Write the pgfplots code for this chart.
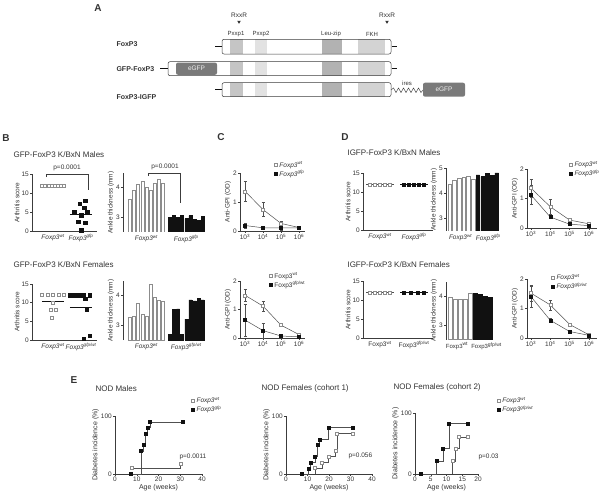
\documentclass[border=0pt]{standalone}
\usepackage{fontspec}
\setmainfont{Liberation Sans}
\usepackage{pgfplots}
\pgfplotsset{compat=1.18}
\definecolor{txt}{HTML}{333333}
\definecolor{axc}{HTML}{3C3C3C}
\definecolor{wtc}{HTML}{8C8C8C}
\definecolor{lnc}{HTML}{505050}
\definecolor{blk}{HTML}{111111}
\definecolor{dA}{HTML}{C5C5C5}
\definecolor{dB}{HTML}{E2E2E2}
\definecolor{dC}{HTML}{B2B2B2}
\definecolor{dD}{HTML}{D3D3D3}
\definecolor{egc}{HTML}{7A7A7A}
\newcommand{\fs}[1]{\fontsize{#1}{#1}\selectfont}
\newcommand{\fxi}[1]{\textit{Foxp3\textsuperscript{#1}}}
\newcommand{\fxu}[1]{Foxp3\textsuperscript{#1}}
\newcommand{\doms}[2]{%
 \fill[dA] (230,#1) rectangle (243,#2);
 \fill[dB] (255,#1) rectangle (267,#2);
 \fill[dC] (322,#1) rectangle (342,#2);
 \fill[dD] (358,#1) rectangle (385,#2);}
\pgfplotsset{
  gp/.style={scale only axis, anchor=south west, clip=false,
    axis x line*=bottom, axis y line*=left,
    axis line style={-, draw=axc, line width=0.55pt},
    tick style={draw=axc, line width=0.5pt}, major tick length=2pt, tick align=outside,
    ticklabel style={font=\fs{6.5}, text=txt, inner sep=1pt},
    label style={font=\fs{6.5}, text=txt},
    /pgf/number format/assume math mode=true,
    ylabel style={inner sep=1pt}, xlabel style={inner sep=1pt}},
  catx/.style={xtick style={draw=none}},
  bars/.style={x axis line style={draw=none}, xtick style={draw=none}, clip=true},
  lg/.style={legend style={at={#1}, anchor=north west, draw=none, fill=none,
      font=\fs{6.5}, text=txt, inner sep=0pt, row sep=0.6pt, nodes={inner sep=0.5pt},
      /tikz/every odd column/.append style={column sep=1.8pt}},
      legend cell align=left,
      legend image code/.code={\draw[##1] plot coordinates {(1.6pt,0pt)};}},
  wtm/.style={mark=square*, mark size=1.5pt, mark options={fill=white, draw=wtc, line width=0.45pt, solid}},
  gfm/.style={mark=square*, mark size=1.5pt, mark options={fill=blk, draw=blk, solid}},
  eb/.style={error bars/y dir=both, error bars/y explicit,
    error bars/error bar style={draw=lnc, line width=0.4pt},
    error bars/error mark options={rotate=90, draw=lnc, mark size=1.5pt, line width=0.4pt}},
  eax/.style={xlabel={Age (weeks)}, ylabel={Diabetes incidence (\%)}, ymin=0, ymax=100, ytick={0,100},
    label style={font=\fs{7}}},
}
\begin{document}
\begin{tikzpicture}[x=1pt,y=1pt]
\useasboundingbox (0pt,0pt) rectangle (604pt,498pt);
%================ overlay (image coordinates) ================
\begin{axis}[at={(0pt,0pt)}, anchor=south west, scale only axis, width=604pt, height=498pt,
  xmin=0, xmax=604, ymin=0, ymax=498, y dir=reverse, hide axis, clip=false]
% panel A
\node[font=\fs{10}\bfseries, text=txt] at (98,8) {A};
\node[font=\fs{6.5}, text=txt] at (239,15) {RxxR};
\node[font=\fs{6.5}, text=txt] at (387,15) {RxxR};
\fill[txt] (237.2,20.8) -- (240.8,20.8) -- (239,23.8) -- cycle;
\fill[txt] (385.2,20.8) -- (388.8,20.8) -- (387,23.8) -- cycle;
\node[font=\fs{6}, text=txt] at (236,34) {Pxxp1};
\node[font=\fs{6}, text=txt] at (261,34) {Pxxp2};
\node[font=\fs{6}, text=txt] at (331,34) {Leu-zip};
\node[font=\fs{6}, text=txt] at (372,34) {FKH};
\node[font=\fs{7}\bfseries, text=txt, anchor=west] at (113,44) {FoxP3};
\node[font=\fs{7}\bfseries, text=txt, anchor=west] at (113,69) {GFP-FoxP3};
\node[font=\fs{7}\bfseries, text=txt, anchor=west] at (113,97) {FoxP3-IGFP};
% row 1
\doms{39.3}{54}
\draw[axc, line width=0.5pt, rounded corners=2pt] (222,39.3) rectangle (391,54);
\draw[blk, line width=1pt] (215,46.7) -- (221.5,46.7);
\draw[blk, line width=1pt] (391.5,46.7) -- (397,46.7);
% row 2
\doms{61.7}{75.7}
\draw[axc, line width=0.5pt, rounded corners=2pt] (168,61.7) rectangle (391,75.7);
\fill[egc, rounded corners=2pt] (176,62.6) rectangle (217,74.8);
\node[font=\fs{6.5}, text=white!88!gray] at (196.5,68.7) {eGFP};
\draw[blk, line width=1pt] (160,68.7) -- (167.5,68.7);
\draw[blk, line width=1pt] (391.5,68.7) -- (397,68.7);
% row 3
\doms{82.7}{96.7}
\draw[axc, line width=0.5pt, rounded corners=2pt] (222,82.7) rectangle (391,96.7);
\draw[blk, line width=1pt] (215,89.7) -- (221.5,89.7);
\draw[axc, line width=0.45pt] (391,90) -- (393.5,88) -- (396,92.5) -- (398.5,88) -- (401,92.5) -- (403.5,88) -- (406,92.5) -- (408.5,88) -- (411,92.5) -- (413.5,88) -- (416,92.5) -- (418.5,88) -- (421,92.5) -- (423,90);
\node[font=\fs{6}, text=txt] at (407,83) {ires};
\fill[egc, rounded corners=2pt] (423,82.7) rectangle (465,96.7);
\node[font=\fs{6.5}, text=white!88!gray] at (444,89.7) {eGFP};
% panel letters and titles
\node[font=\fs{10}\bfseries, text=txt] at (6,138) {B};
\node[font=\fs{10}\bfseries, text=txt] at (221,137) {C};
\node[font=\fs{10}\bfseries, text=txt] at (345,137) {D};
\node[font=\fs{10}\bfseries, text=txt] at (74,380) {E};
\node[font=\fs{8}, text=txt, anchor=west] at (10,155) {GFP-FoxP3 K/BxN Males};
\node[font=\fs{8}, text=txt, anchor=west] at (10,265) {GFP-FoxP3 K/BxN Females};
\node[font=\fs{8}, text=txt, anchor=west] at (344,153) {IGFP-FoxP3 K/BxN Males};
\node[font=\fs{8}, text=txt, anchor=west] at (344,265) {IGFP-FoxP3 K/BxN Females};
\node[font=\fs{8}, text=txt, anchor=west] at (92,389) {NOD Males};
\node[font=\fs{8}, text=txt, anchor=west] at (258,388) {NOD Females (cohort 1)};
\node[font=\fs{8}, text=txt, anchor=west] at (390,387) {NOD Females (cohort 2)};
% p-values
\draw[axc, line width=0.5pt] (46,177) -- (46,174) -- (88,174) -- (88,190);
\node[font=\fs{6.5}, text=txt] at (67,168) {p=0.0001};
\draw[axc, line width=0.5pt] (148,176) -- (148,173) -- (180,173) -- (180,203);
\node[font=\fs{6.5}, text=txt] at (165,167) {p=0.0001};
\node[font=\fs{6.5}, text=txt, anchor=west] at (176,457) {p=0.0011};
\node[font=\fs{6.5}, text=txt, anchor=west] at (345,456) {p=0.056};
\node[font=\fs{6.5}, text=txt, anchor=west] at (475,457) {p=0.03};
\end{axis}
%================ B: males arthritis ================
\begin{axis}[gp, catx, at={(32pt,267pt)}, width=65pt, height=57pt, xmin=0.25, xmax=2.57,
  ymin=0, ymax=15, ytick={0,5,10,15}, xtick={1,2}, xticklabels={\fxi{wt},\fxi{gfp}}, ylabel={Arthritis score}]
\addplot[only marks, wtm] coordinates {(0.60,12)(0.71,12)(0.83,12)(0.94,12)(1.06,12)(1.17,12)(1.29,12)(1.40,12)};
\addplot[blk, line width=0.5pt] coordinates {(1.6,4.5)(2.4,4.5)};
\addplot[only marks, gfm, mark size=1.7pt] coordinates {(2.15,8)(1.95,7.2)(2.12,6.1)(1.75,5.1)(2.22,4.9)(2.0,4.2)(1.9,2.4)(2.15,2.2)(2.0,0.2)};
\end{axis}
%================ B: males ankle ================
\begin{axis}[gp, bars, at={(123pt,266pt)}, width=83pt, height=59pt, xmin=-0.7, xmax=19.5,
  ymin=2.5, ymax=4.47, ytick={3,4}, xtick={5,14.7}, xticklabels={\fxi{wt},\fxi{gfp}}, ylabel={Ankle thickness (mm)}]
\addplot[ybar, bar shift=0pt, bar width=3pt, fill=white, draw=wtc, line width=0.5pt] coordinates {(1,3.61)(2,3.89)(3,4.08)(4,4.19)(5,4.0)(6,3.89)(7,4.12)(8,4.25)(9,4.12)};
\addplot[ybar, bar shift=0pt, bar width=3pt, fill=blk, draw=blk, line width=0.5pt] coordinates {(10.7,3.0)(11.7,3.05)(12.7,3.0)(13.7,3.05)(14.7,2.95)(15.7,3.05)(16.7,2.92)(17.7,2.88)(18.7,3.02)};
\end{axis}
%================ B: females arthritis ================
\begin{axis}[gp, catx, at={(32pt,158pt)}, width=65pt, height=56pt, xmin=0.25, xmax=2.57,
  ymin=0, ymax=15, ytick={0,5,10,15}, xtick={1,2}, xticklabels={\fxi{wt},\fxi{gfp/wt}}, ylabel={Arthritis score}]
\addplot[only marks, wtm] coordinates {(0.6,12)(0.8,12)(1.0,12)(1.2,12)(1.4,12)(1.0,10)(0.92,8.2)(1.08,8.2)(0.97,6.1)};
\addplot[blk, line width=0.5pt] coordinates {(0.6,10.3)(1.4,10.3)};
\addplot[blk, line width=0.5pt] coordinates {(1.6,8.8)(2.4,8.8)};
\addplot[only marks, gfm, mark size=1.7pt] coordinates {(1.6,12)(1.76,12)(1.92,12)(2.08,12)(2.3,12)(2.15,11)(2.2,8.2)(2.3,1.2)(2.1,0.3)};
\end{axis}
%================ B: females ankle ================
\begin{axis}[gp, bars, at={(123pt,158pt)}, width=83pt, height=59pt, xmin=-0.7, xmax=19.5,
  ymin=2.5, ymax=4.47, ytick={3,4}, xtick={5,14.7}, xticklabels={\fxi{wt},\fxi{gfp/wt}}, ylabel={Ankle thickness (mm)}]
\addplot[ybar, bar shift=0pt, bar width=3pt, fill=white, draw=wtc, line width=0.5pt] coordinates {(1,3.26)(2,3.3)(3,3.72)(4,3.37)(5,3.28)(6,4.37)(7,3.93)(8,3.84)(9,3.79)};
\addplot[ybar, bar shift=0pt, bar width=3pt, fill=blk, draw=blk, line width=0.5pt] coordinates {(10.7,2.69)(11.7,3.53)(12.7,3.54)(13.7,2.69)(14.7,3.2)(15.7,3.84)(16.7,3.81)(17.7,3.88)(18.7,3.84)};
\end{axis}
%================ C: top ================
\begin{axis}[gp, xmode=log, xtick={1e3,1e4,1e5,1e6},
  xticklabels={10\textsuperscript{3},10\textsuperscript{4},10\textsuperscript{5},10\textsuperscript{6}},
  xminorticks=false, ymin=0, ymax=2, ytick={0,1,2}, ylabel={Anti-GPI (OD)},
  at={(240pt,267pt)}, width=65pt, height=58pt, xmin=527, xmax=2.15e6, lg={(0.523,1.207)}]
\addlegendimage{only marks, mark=square*, mark size=1.5pt, mark options={fill=white, draw=wtc, line width=0.45pt}}
\addlegendentry{\fxi{wt}}
\addlegendimage{only marks, mark=square*, mark size=1.5pt, mark options={fill=blk, draw=blk}}
\addlegendentry{\fxi{gfp}}
\addplot[forget plot, lnc, line width=0.5pt, wtm, eb] coordinates {(1e3,1.37) +- (0,0.33) (1e4,0.74) +- (0,0.24) (1e5,0.26) +- (0,0.07) (1e6,0.12) +- (0,0.04)};
\addplot[forget plot, lnc, line width=0.5pt, gfm, eb] coordinates {(1e3,0.19) +- (0,0.08) (1e4,0.11) +- (0,0.03) (1e5,0.11) +- (0,0.07) (1e6,0.11) +- (0,0.05)};
\end{axis}
%================ C: bottom ================
\begin{axis}[gp, xmode=log, xtick={1e3,1e4,1e5,1e6},
  xticklabels={10\textsuperscript{3},10\textsuperscript{4},10\textsuperscript{5},10\textsuperscript{6}},
  xminorticks=false, ymin=0, ymax=2, ytick={0,1,2}, ylabel={Anti-GPI (OD)},
  at={(240pt,160pt)}, width=65pt, height=57pt, xmin=527, xmax=2.15e6, lg={(0.446,1.158)}]
\addlegendimage{only marks, mark=square*, mark size=1.5pt, mark options={fill=white, draw=wtc, line width=0.45pt}}
\addlegendentry{\fxu{wt}}
\addlegendimage{only marks, mark=square*, mark size=1.5pt, mark options={fill=blk, draw=blk}}
\addlegendentry{\fxu{gfp/wt}}
\addplot[forget plot, lnc, line width=0.5pt, wtm, eb] coordinates {(1e3,1.5) +- (0,0.22) (1e4,1.12) +- (0,0.17) (1e5,0.45) +- (0,0.03) (1e6,0.12) +- (0,0.05)};
\addplot[forget plot, lnc, line width=0.5pt, gfm, eb] coordinates {(1e3,0.63) +- (0,0.55) (1e4,0.26) +- (0,0.25) (1e5,0.07) +- (0,0.02) (1e6,0.04) +- (0,0.02)};
\end{axis}
%================ D: males arthritis ================
\begin{axis}[gp, catx, at={(363pt,268pt)}, width=70pt, height=57pt, xmin=0.5, xmax=2.56,
  ymin=0, ymax=15, ytick={0,5,10,15}, xtick={1,2}, xticklabels={\fxi{wt},\fxi{gfp}}, ylabel={Arthritis score}]
\addplot[lnc, line width=0.5pt] coordinates {(0.6,12)(1.4,12)};
\addplot[blk, line width=0.5pt] coordinates {(1.6,12)(2.4,12)};
\addplot[only marks, wtm] coordinates {(0.7,12)(0.85,12)(1.0,12)(1.15,12)(1.3,12)};
\addplot[only marks, gfm] coordinates {(1.7,12)(1.85,12)(2.0,12)(2.15,12)(2.3,12)};
\end{axis}
%================ D: males ankle ================
\begin{axis}[gp, bars, at={(446pt,267pt)}, width=54pt, height=63pt, xmin=0.2, xmax=11.7,
  ymin=2.5, ymax=5, ytick={3,4,5}, xtick={3.3,9.2}, xticklabels={\fxi{wt},\fxi{gfp}}, ylabel={Ankle thickness (mm)}]
\addplot[ybar, bar shift=0pt, bar width=3.6pt, fill=white, draw=wtc, line width=0.5pt] coordinates {(1,4.37)(2,4.52)(3,4.6)(4,4.64)(5,4.69)(6,4.56)};
\addplot[ybar, bar shift=0pt, bar width=3.6pt, fill=blk, draw=blk, line width=0.5pt] coordinates {(7,4.73)(8,4.66)(9,4.79)(10,4.7)(11,4.81)};
\end{axis}
%================ D: females arthritis ================
\begin{axis}[gp, catx, at={(363pt,160pt)}, width=70pt, height=57pt, xmin=0.5, xmax=2.56,
  ymin=0, ymax=15, ytick={0,5,10,15}, xtick={1,2}, xticklabels={\fxu{wt},\fxu{gfp/wt}}, ylabel={Arthritis score}]
\addplot[lnc, line width=0.5pt] coordinates {(0.6,12)(1.4,12)};
\addplot[blk, line width=0.5pt] coordinates {(1.6,12)(2.4,12)};
\addplot[only marks, wtm] coordinates {(0.7,12)(0.85,12)(1.0,12)(1.15,12)(1.3,12)};
\addplot[only marks, gfm] coordinates {(1.7,12)(1.9,12)(2.1,12)(2.3,12)};
\end{axis}
%================ D: females ankle ================
\begin{axis}[gp, bars, at={(446pt,158.5pt)}, width=48pt, height=58pt, xmin=0.2, xmax=9.8,
  ymin=2.5, ymax=4.5, ytick={3,4}, xtick={2.4,8.3}, xticklabels={\fxu{wt},\fxu{gfp/wt}}, ylabel={Ankle thickness (mm)},
  xticklabel style={font=\fs{6}}]
\addplot[ybar, bar shift=0pt, bar width=3.8pt, fill=white, draw=wtc, line width=0.5pt] coordinates {(1,3.96)(2,3.88)(3,3.88)(4,3.88)(5,4.08)};
\addplot[ybar, bar shift=0pt, bar width=3.8pt, fill=blk, draw=blk, line width=0.5pt] coordinates {(6,4.08)(7,4.05)(8,3.99)(9,3.96)};
\end{axis}
%================ D: top anti-GPI ================
\begin{axis}[gp, xmode=log, xtick={1e3,1e4,1e5,1e6},
  xticklabels={10\textsuperscript{3},10\textsuperscript{4},10\textsuperscript{5},10\textsuperscript{6}},
  xminorticks=false, ymin=0, ymax=2, ytick={0,1,2}, ylabel={Anti-GPI (OD)},
  at={(527pt,270pt)}, width=70pt, height=59pt, xmin=621, xmax=2.63e6, lg={(0.6,1.144)}]
\addlegendimage{only marks, mark=square*, mark size=1.5pt, mark options={fill=white, draw=wtc, line width=0.45pt}}
\addlegendentry{\fxi{wt}}
\addlegendimage{only marks, mark=square*, mark size=1.5pt, mark options={fill=blk, draw=blk}}
\addlegendentry{\fxi{gfp}}
\addplot[forget plot, lnc, line width=0.5pt, wtm, eb] coordinates {(1e3,1.35) +- (0,0.3) (1e4,0.72) +- (0,0.25) (1e5,0.27) +- (0,0.04) (1e6,0.14) +- (0,0.02)};
\addplot[forget plot, lnc, line width=0.5pt, gfm, eb] coordinates {(1e3,1.12) +- (0,0.32) (1e4,0.37) +- (0,0.04) (1e5,0.13) +- (0,0.03) (1e6,0.08) +- (0,0.02)};
\end{axis}
%================ D: bottom anti-GPI ================
\begin{axis}[gp, xmode=log, xtick={1e3,1e4,1e5,1e6},
  xticklabels={10\textsuperscript{3},10\textsuperscript{4},10\textsuperscript{5},10\textsuperscript{6}},
  xminorticks=false, ymin=0, ymax=2, ytick={0,1,2}, ylabel={Anti-GPI (OD)},
  at={(527pt,160pt)}, width=70pt, height=59pt, xmin=621, xmax=2.63e6, lg={(0.343,1.093)}]
\addlegendimage{only marks, mark=square*, mark size=1.5pt, mark options={fill=white, draw=wtc, line width=0.45pt}}
\addlegendentry{\fxi{wt}}
\addlegendimage{only marks, mark=square*, mark size=1.5pt, mark options={fill=blk, draw=blk}}
\addlegendentry{\fxi{gfp/wt}}
\addplot[forget plot, lnc, line width=0.5pt, wtm, eb] coordinates {(1e3,1.52) +- (0,0.27) (1e4,1.12) +- (0,0.17) (1e5,0.46) +- (0,0.03) (1e6,0.11) +- (0,0.03)};
\addplot[forget plot, lnc, line width=0.5pt, gfm, eb] coordinates {(1e3,1.4) +- (0,0.35) (1e4,0.6) +- (0,0.07) (1e5,0.22) +- (0,0.03) (1e6,0.09) +- (0,0.02)};
\end{axis}
%================ E: NOD males ================
\begin{axis}[gp, eax, at={(115pt,24pt)}, width=87pt, height=58pt, xmin=0, xmax=40, xtick={0,10,20,30,40},
  lg={(0.874,1.336)}]
\addlegendimage{only marks, mark=square*, mark size=1.5pt, mark options={fill=white, draw=wtc, line width=0.45pt}}
\addlegendentry{\fxi{wt}}
\addlegendimage{only marks, mark=square*, mark size=1.5pt, mark options={fill=blk, draw=blk}}
\addlegendentry{\fxi{gfp}}
\addplot[forget plot, const plot mark left, lnc, line width=0.5pt] coordinates {(7,0)(12,40)(13,50)(14,70)(15,80)(16,90)(31,90)};
\addplot[forget plot, const plot mark left, lnc, line width=0.5pt] coordinates {(7.7,10)(30,17)};
\addplot[forget plot, only marks, wtm] coordinates {(7.7,10)(30,17)};
\addplot[forget plot, only marks, gfm] coordinates {(7,0)(12,40)(13,50)(14,70)(15,80)(16,90)(31,90)};
\end{axis}
%================ E: NOD females cohort 1 ================
\begin{axis}[gp, eax, at={(286pt,24pt)}, width=86pt, height=58pt, xmin=0, xmax=40, xtick={0,10,20,30,40}]
\addplot[const plot mark left, lnc, line width=0.5pt] coordinates {(7.3,0)(10.4,10)(11.3,20)(13.5,30)(14.6,50)(15.6,60)(19.8,80)(31,80)};
\addplot[const plot mark left, lnc, line width=0.5pt] coordinates {(13.5,0)(13.5,10)(16.7,20)(19.8,30)(22.9,40)(23.7,70)(31,70)};
\addplot[only marks, wtm] coordinates {(13.5,10)(16.7,20)(19.8,30)(22.9,40)(23.7,70)(31,70)};
\addplot[only marks, gfm] coordinates {(7.3,0)(10.4,10)(11.3,20)(13.5,30)(14.6,50)(15.6,60)(19.8,80)(31,80)};
\end{axis}
%================ E: NOD females cohort 2 ================
\begin{axis}[gp, eax, at={(415pt,24pt)}, width=63pt, height=61pt, xmin=0, xmax=20, xtick={0,5,10,15,20},
  lg={(1.30,1.27)}]
\addlegendimage{only marks, mark=square*, mark size=1.5pt, mark options={fill=white, draw=wtc, line width=0.45pt}}
\addlegendentry{\fxi{wt}}
\addlegendimage{only marks, mark=square*, mark size=1.5pt, mark options={fill=blk, draw=blk}}
\addlegendentry{\fxi{gfp/wt}}
\addplot[forget plot, const plot mark left, lnc, line width=0.5pt] coordinates {(1.9,0)(6.8,21)(8.9,42)(10.8,83)(16.8,83)};
\addplot[forget plot, const plot mark left, lnc, line width=0.5pt] coordinates {(11.9,0)(11.9,21)(12.9,42)(13.9,61)(16.8,61)};
\addplot[forget plot, only marks, wtm] coordinates {(11.9,21)(12.9,42)(13.9,61)(16.8,61)};
\addplot[forget plot, only marks, gfm] coordinates {(1.9,0)(6.8,21)(8.9,42)(10.8,83)(16.8,83)};
\end{axis}
\end{tikzpicture}
\end{document}
